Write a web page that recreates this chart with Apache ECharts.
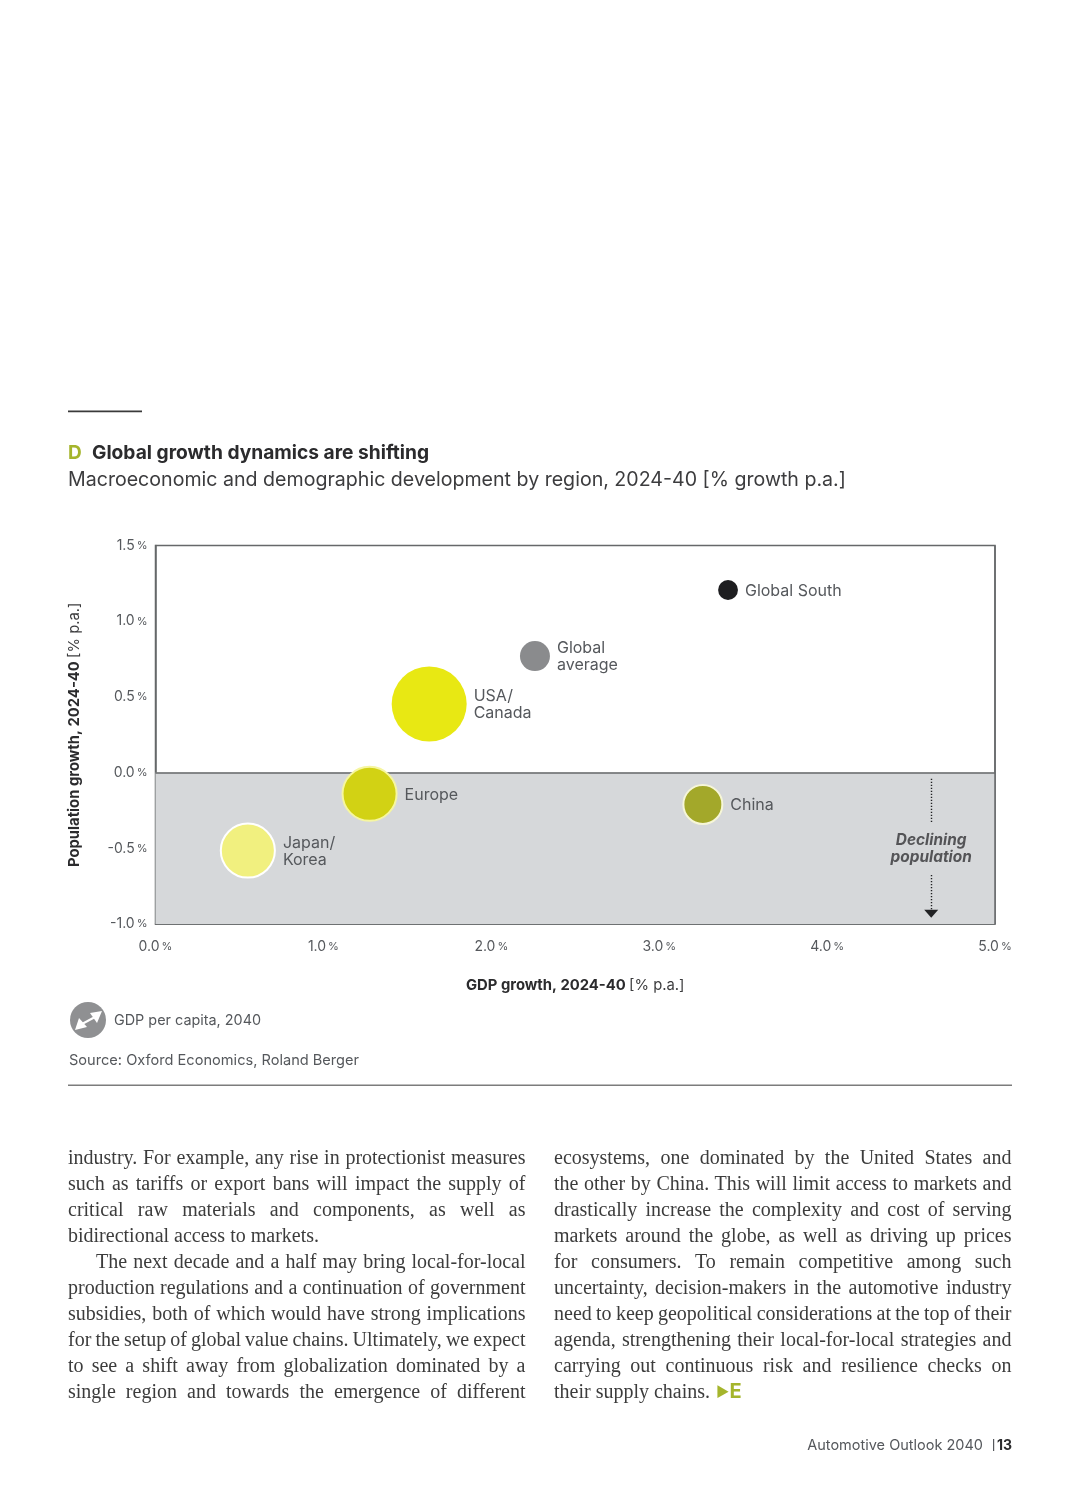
<!DOCTYPE html>
<html><head><meta charset="utf-8">
<style>
html,body{margin:0;padding:0;background:#fff;}
#wrap{position:relative;width:1080px;height:1504px;overflow:hidden;}
#chart{position:absolute;left:0;top:0;width:1080px;height:1504px;}
.col{position:absolute;top:1143.5px;width:457.5px;font-family:"Liberation Serif",serif;font-size:20px;line-height:26.1px;color:#3c3c3c;}
.col div{white-space:nowrap;height:26.1px;}
.col div.ind{padding-left:28px;}
.g{color:#a5b52c;font-family:Inter,sans-serif;font-weight:700;}
.g .t{font-size:14px;margin-left:1px;vertical-align:1px;}
.g .e{font-size:20px;}
</style>
<script src="https://cdn.jsdelivr.net/npm/echarts@6/dist/echarts.min.js"></script>
</head><body>
<div id="wrap"><div id="chart"></div>
<div class="col" id="c1" style="left:68px"></div>
<div class="col" id="c2" style="left:554px"></div>
</div>
<script>
const regions = ['USA/\nCanada','Global\naverage','Global South','Europe','Japan/\nKorea','China'];
const gdpGrowth = [1.63,2.26,3.41,1.275,0.55,3.26];
const popGrowth = [0.453,0.77,1.206,-0.14,-0.515,-0.21];
const gdpPerCapitaIndex = [100,16,7,52,52,27];
const xTickLabels = ['0.0','1.0','2.0','3.0','4.0','5.0'];
const yTickLabels = ['-1.0','-0.5','0.0','0.5','1.0','1.5'];
const column1 = [
 'industry. For example, any rise in protectionist measures',
 'such as tariffs or export bans will impact the supply of',
 'critical raw materials and components, as well as',
 '*bidirectional access to markets.',
 '>The next decade and a half may bring local-for-local',
 'production regulations and a continuation of government',
 'subsidies, both of which would have strong implications',
 'for the setup of global value chains. Ultimately, we expect',
 'to see a shift away from globalization dominated by a',
 'single region and towards the emergence of different'];
const column2 = [
 'ecosystems, one dominated by the United States and',
 'the other by China. This will limit access to markets and',
 'drastically increase the complexity and cost of serving',
 'markets around the globe, as well as driving up prices',
 'for consumers. To remain competitive among such',
 'uncertainty, decision-makers in the automotive industry',
 'need to keep geopolitical considerations at the top of their',
 'agenda, strengthening their local-for-local strategies and',
 'carrying out continuous risk and resilience checks on',
 '*their supply chains. <span class="g"><span class="t">\u25B6</span><span class="e">E</span></span>'];
function fill(id,lines){
  const col=document.getElementById(id);
  const W=457.5;
  lines.forEach(l=>{
    const d=document.createElement('div');
    const s=document.createElement('span');
    let kind='';
    if(l[0]==='*'||l[0]==='>'){kind=l[0];l=l.slice(1);}
    s.innerHTML=l; d.appendChild(s); col.appendChild(d);
    if(kind==='>') d.className='ind';
    if(kind!=='*'){
      const target=W-(kind==='>'?28:0);
      const gaps=l.split(' ').length-1;
      // Fit each line to the column width by spreading or tightening word gaps.
      s.style.wordSpacing=((target-s.getBoundingClientRect().width)/gaps)+'px';
    }
  });
}
fill('c1',column1); fill('c2',column2);

const SANS='Inter, "Open Sans", sans-serif';
const bubbleColors=['#e8e813','#8a8b8d','#1e1e20','#d2d214','#f1f07f','#a3a82a'];
const bubbleBorders=['#ffffff','#ffffff','#ffffff','#f6f6a0','#ffffff','#f6f6d8'];
const pctRich={n:{fontFamily:SANS,fontSize:14,color:'#55585c'},p:{fontFamily:SANS,fontSize:11,color:'#55585c',padding:[0,0,0,2]}};
const chart=echarts.init(document.getElementById('chart'),null,{renderer:'canvas'});
chart.setOption({
  animation:false,
  backgroundColor:'#ffffff',
  title:[
    {left:68,top:444,padding:0,text:'{d|D}{t|Global growth dynamics are shifting}',
     textStyle:{rich:{d:{fontFamily:SANS,fontSize:19,fontWeight:700,color:'#a5b52c',width:24},t:{fontFamily:SANS,fontSize:19.2,fontWeight:700,color:'#2b2b2d'}}}},
    {left:68,top:470,padding:0,text:'Macroeconomic and demographic development by region, 2024-40 [% growth p.a.]',
     textStyle:{fontFamily:SANS,fontSize:19.6,fontWeight:400,color:'#3c3c3e'}}
  ],
  grid:{left:155.5,top:545.5,width:839.5,height:378.5,show:true,borderColor:'#66686a',borderWidth:1.5,backgroundColor:'#fff'},
  xAxis:{type:'value',min:0,max:5,interval:1,
    axisLine:{show:true,onZero:false,lineStyle:{color:'#66686a',width:1.5}},axisTick:{show:false},splitLine:{show:false},
    axisLabel:{margin:16,formatter:(v)=>'{n|'+xTickLabels[Math.round(v)]+'}{p|%}',rich:pctRich},
    name:'{b|GDP growth, 2024-40} {r|[% p.a.]}',nameLocation:'middle',nameGap:54,
    nameTextStyle:{rich:{b:{fontFamily:SANS,fontSize:14.8,fontWeight:700,color:'#2b2b2d'},r:{fontFamily:SANS,fontSize:14.8,color:'#3c3c3e'}}}},
  yAxis:{type:'value',min:-1,max:1.5,interval:0.5,
    axisLine:{show:true,onZero:false,lineStyle:{color:'#66686a',width:1.5}},axisTick:{show:false},splitLine:{show:false},
    axisLabel:{margin:8,formatter:(v)=>'{n|'+yTickLabels[Math.round((v+1)*2)]+'}{p|%}',rich:pctRich},
    name:'{b|Population growth, 2024-40} {r|[% p.a.]}',nameLocation:'middle',nameGap:73,
    nameTextStyle:{rich:{b:{fontFamily:SANS,fontSize:14.8,fontWeight:700,color:'#2b2b2d'},r:{fontFamily:SANS,fontSize:14.8,color:'#3c3c3e'}}}},
  series:[
    {name:'backdrop',type:'scatter',z:1,data:[],silent:true,
     markArea:{z:1,silent:true,itemStyle:{color:'#d6d8da'},data:[[{coord:[0,0]},{coord:[5,-1]}]]},
     markLine:{z:1,silent:true,symbol:'none',animation:false,label:{show:false},
       lineStyle:{color:'#66686a',width:1.5,type:'solid'},
       data:[[{coord:[0,0]},{coord:[5,0]}],[{coord:[5,-1]},{coord:[5,1.5]}]]}},
    {name:'Regions',type:'scatter',z:3,
     data:regions.map((r,i)=>({name:r,value:[gdpGrowth[i],popGrowth[i],gdpPerCapitaIndex[i]],
       itemStyle:{color:bubbleColors[i],borderColor:bubbleBorders[i],borderWidth:i<3?0:2,opacity:1}})),
     symbolSize:(v)=>7.5*Math.sqrt(v[2]),
     label:{show:true,position:'right',distance:7,offset:[0,1],formatter:(p)=>p.name,fontFamily:SANS,fontSize:16,lineHeight:17,color:'#55585c',align:'left'}},
    {name:'Declining population',type:'scatter',z:4,symbolSize:0,silent:true,
     data:[{name:'Declining\npopulation',value:[4.62,-0.505]}],
     label:{show:true,position:'inside',formatter:(p)=>p.name,fontFamily:SANS,fontSize:15.4,fontWeight:700,fontStyle:'italic',lineHeight:17,color:'#333336',align:'center',verticalAlign:'middle'},
     markLine:{silent:true,animation:false,label:{show:false},symbol:'none',
       lineStyle:{color:'#222224',width:1.4,type:[1.4,1.6]},
       data:[[{coord:[4.62,-0.04]},{coord:[4.62,-0.333]}],
             [{coord:[4.62,-0.676]},{coord:[4.62,-0.933],symbol:'triangle',symbolSize:[14,8],itemStyle:{color:'#111'}}]]}}
  ],
  graphic:[
    {type:'rect',silent:true,shape:{x:68,y:410.5,width:74,height:1.8},style:{fill:'#3a3a3a'}},
    {type:'rect',silent:true,shape:{x:68,y:1084.5,width:944,height:1.4},style:{fill:'#7c7c7c'}},
    {type:'circle',silent:true,shape:{cx:88,cy:1020,r:18},style:{fill:'#8f9092'}},
    {type:'line',silent:true,shape:{x1:82,y1:1024,x2:95,y2:1017},style:{stroke:'#fff',lineWidth:2}},
    {type:'polygon',silent:true,shape:{points:[[75,1030],[79,1018],[87,1027]]},style:{fill:'#fff'}},
    {type:'polygon',silent:true,shape:{points:[[102,1011],[90,1013],[97,1023]]},style:{fill:'#fff'}},
    {type:'text',silent:true,style:{x:114,y:1020.5,text:'GDP per capita, 2040',font:'14.4px '+SANS,fill:'#55585c',verticalAlign:'middle'}},
    {type:'text',silent:true,style:{x:69,y:1060.5,text:'Source: Oxford Economics, Roland Berger',font:'14.6px '+SANS,fill:'#55585c',verticalAlign:'middle'}},
    {type:'text',silent:true,style:{x:983,y:1445.5,text:'Automotive Outlook 2040',font:'14.5px '+SANS,fill:'#55585c',align:'right',verticalAlign:'middle'}},
    {type:'rect',silent:true,shape:{x:993,y:1439,width:1.2,height:12},style:{fill:'#55585c'}},
    {type:'text',silent:true,style:{x:1012,y:1445.5,text:'13',font:'700 14px '+SANS,fill:'#2b2b2d',align:'right',verticalAlign:'middle'}}
  ]
});
</script>
</body></html>
